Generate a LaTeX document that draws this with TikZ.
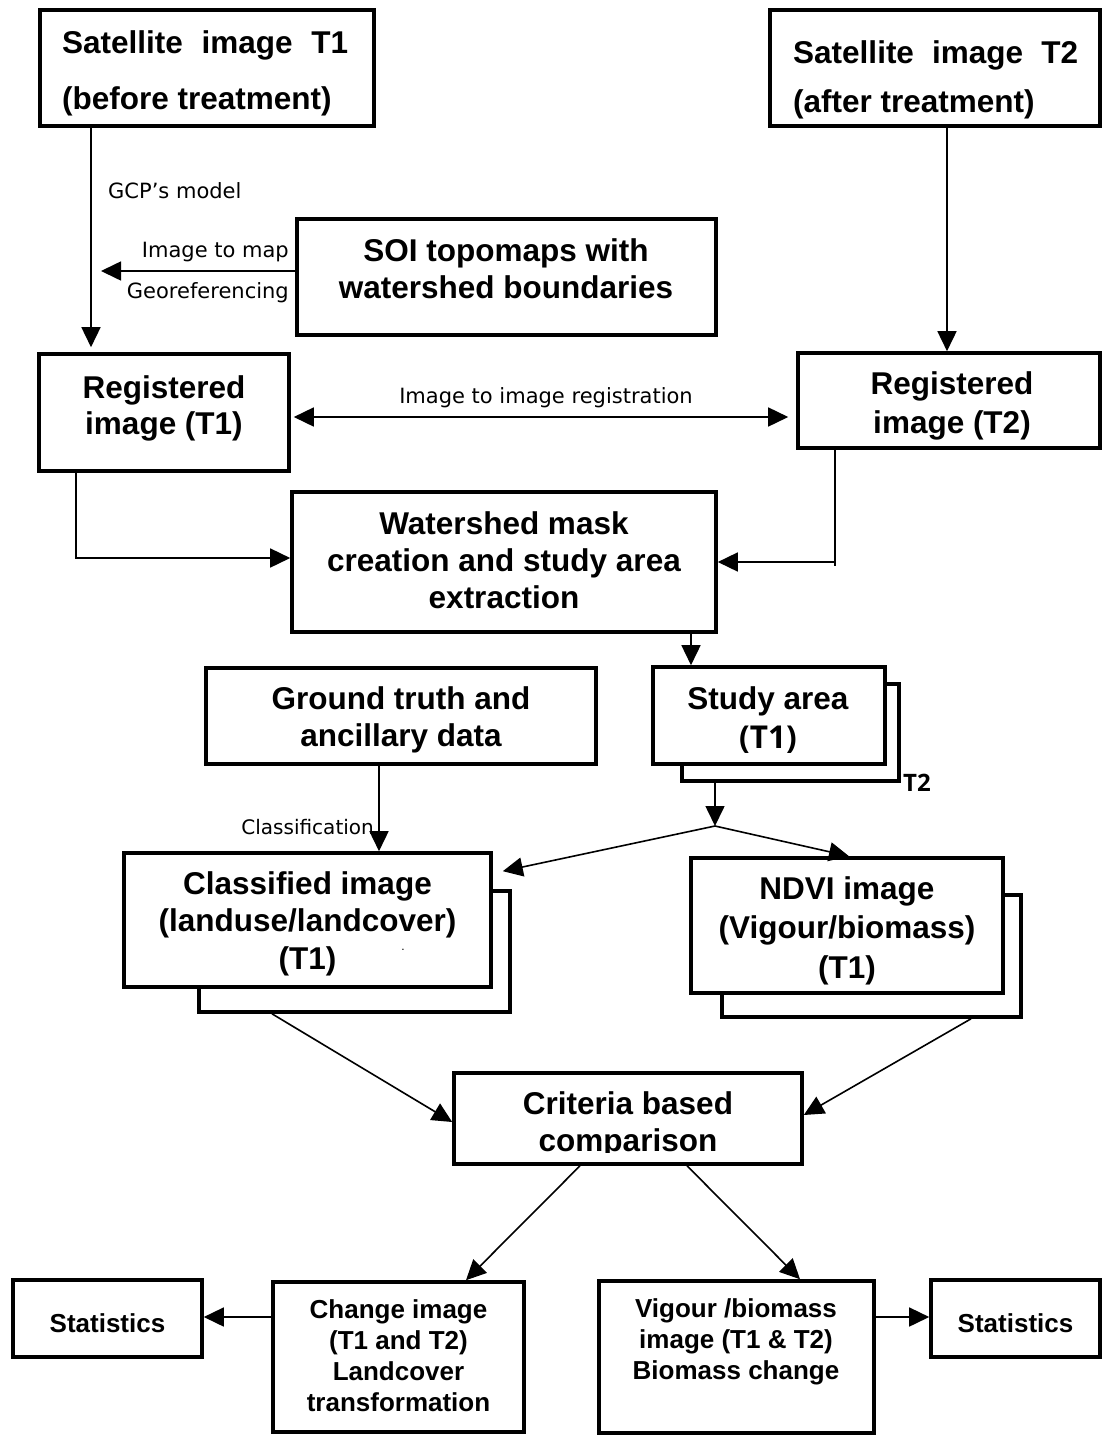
\documentclass[tikz,border=0pt]{standalone}
\usepackage{fontspec}
\setmainfont{Liberation Sans}
\newfontfamily\lblfont{DejaVu Sans}
\newfontfamily\osfont{Open Sans}
\usetikzlibrary{arrows.meta}
\begin{document}
\begin{tikzpicture}[x=1pt,y=-1pt,
  box/.style={draw, line width=3.6pt, fill=white, inner sep=0pt},
  big/.style={font=\bfseries\fontsize{31.5}{37}\selectfont, align=center, inner sep=0pt},
  small/.style={font=\bfseries\fontsize{26}{31}\selectfont, align=center, inner sep=0pt},
  lbl/.style={font=\lblfont\fontsize{21}{25}\selectfont, inner sep=0pt},
  conn/.style={line width=1.6pt, -{Triangle[length=20pt,width=19pt]}},
  conntwo/.style={line width=1.6pt, {Triangle[length=20pt,width=19pt]}-{Triangle[length=20pt,width=19pt]}},
  plain/.style={line width=1.6pt}]
\fill[white] (0,0) rectangle (1102,1435);
\useasboundingbox (0,0) rectangle (1102,1435);

% top boxes
\node[box, minimum width=334pt, minimum height=116pt] (A) at (207,68) {};
\node[big, anchor=west, align=left, font=\bfseries\fontsize{31.5}{56}\selectfont] (At) at (62,73)
  {\hbox to 286pt{Satellite\hfill image\hfill T1}\\(before treatment)};
\node[box, minimum width=330pt, minimum height=116pt] (B) at (935,68) {};
\node[big, anchor=west, align=left, font=\bfseries\fontsize{31.5}{49}\selectfont] (Bt) at (793,80)
  {\hbox to 285pt{Satellite\hfill image\hfill T2}\\(after treatment)};

\node[box, minimum width=419pt, minimum height=116pt] (SOI) at (506.5,277) {};
\node[big] (SOIt) at (506,268.5) {SOI topomaps with\\watershed boundaries};

\node[box, minimum width=250pt, minimum height=117pt] (R1) at (164,412.5) {};
\node[big, font=\bfseries\fontsize{31.5}{36}\selectfont] (R1t) at (164,408) {Registered\\image (T1)};
\node[box, minimum width=302pt, minimum height=95pt] (R2) at (949,400.5) {};
\node[big, font=\bfseries\fontsize{31.5}{39}\selectfont] (R2t) at (952,405.5) {Registered\\image (T2)};

\node[box, minimum width=424pt, minimum height=140pt] (Wat) at (504,562) {};
\node[big] (Watt) at (504,560) {Watershed mask\\creation and study area\\extraction};

\node[box, minimum width=390pt, minimum height=96pt] (GT) at (401,716) {};
\node[big] (GTt) at (401,719.5) {Ground truth and\\ancillary data};

\node[box, minimum width=217pt, minimum height=97pt] (SB) at (790.5,732.5) {};
\node[box, minimum width=232pt, minimum height=97pt] (SF) at (769,715.5) {};
\node[big, font=\bfseries\fontsize{31.5}{39}\selectfont] (SFt) at (768,720.5) {Study area\\{\osfont\bfseries (T1)}};
\node[inner sep=0pt, anchor=west, font=\osfont\bfseries\fontsize{24}{28}\selectfont] (T2lbl) at (903,783) {T2};

\node[box, minimum width=311pt, minimum height=121pt] (CB) at (354.5,951.5) {};
\node[box, minimum width=367pt, minimum height=134pt] (CF) at (307.5,920) {};
\node[big, font=\bfseries\fontsize{31.5}{37.5}\selectfont] (CFt) at (307.5,923.5) {Classified image\\(landuse/landcover)\\(T1)};
\node[inner sep=0pt, font=\fontsize{12}{12}\selectfont] (dot) at (403,950) {.};

\node[box, minimum width=299pt, minimum height=122pt] (NB) at (871.5,956) {};
\node[box, minimum width=312pt, minimum height=135pt] (NF) at (847,925.5) {};
\node[big, font=\bfseries\fontsize{31.5}{39.5}\selectfont] (NFt) at (847,930.5) {NDVI image\\(Vigour/biomass)\\(T1)};

\node[box, minimum width=348pt, minimum height=91pt] (Cr) at (628,1118.5) {};
\begin{scope}
\clip (454,1073) rectangle (802,1152);
\node[big] (Crt) at (628,1124.5) {Criteria based\\comparison};
\end{scope}

\node[box, minimum width=251pt, minimum height=150pt] (Ch) at (398.5,1357) {};
\node[small] (Cht) at (398.5,1356) {Change image\\(T1 and T2)\\Landcover\\transformation};
\node[box, minimum width=275pt, minimum height=152pt] (Vg) at (736.5,1357) {};
\node[small] (Vgt) at (736,1341.5) {Vigour /biomass\\image (T1 \& T2)\\Biomass change};
\node[box, minimum width=189pt, minimum height=77pt] (SL) at (107.5,1318.5) {};
\node[small] (SLt) at (107.5,1323) {Statistics};
\node[box, minimum width=169pt, minimum height=77pt] (SR) at (1015.5,1318.5) {};
\node[small] (SRt) at (1015.5,1323) {Statistics};

% labels
\node[lbl, anchor=west] (gcp) at (108,191) {GCP’s model};
\node[lbl, anchor=east] (imap) at (289,252) {Image to map};
\node[lbl, anchor=east] (georef) at (289,293) {Georeferencing};
\node[lbl] (i2i) at (546,398) {Image to image registration};
\node[lbl, anchor=east, font=\lblfont\fontsize{20}{24}\selectfont] (cls) at (374,827) {Classification};

% connectors
\draw[conn] ([xshift=-116pt]A.south) -- ([xshift=-73pt,yshift=5pt]R1.north);
\coordinate (geo) at (101,271);
\draw[conn] ([yshift=6pt]SOI.west) -- (geo);
\draw[conn] ([xshift=12pt]B.south) -- ([xshift=-2pt]R2.north);
\draw[conntwo] ([xshift=3pt,yshift=-4.5pt]R1.east) -- ([xshift=-8pt,yshift=-16.5pt]R2.west);
\draw[conn] ([xshift=-88pt]R1.south) |- ([yshift=4pt]Wat.west);
\coordinate (r2end) at (835,566);
\draw[plain] ([xshift=-114pt]R2.south) -- (r2end);
\draw[conn] (r2end |- Wat.east) -- (Wat.east);
\draw[conn] ([xshift=187pt]Wat.south) -- ([xshift=-78pt]SF.north);
\coordinate (br) at (715,826);
\draw[conn] ([xshift=-75.5pt]SB.south) -- (br);
\draw[conn] (br) -- ([xshift=10pt,yshift=-20pt]CF.north east);
\draw[conn] (br) -- ([xshift=2pt]NF.north);
\draw[conn] ([xshift=-22pt]GT.south) -- ([xshift=71.5pt]CF.north);
\draw[conn] ([xshift=-82.5pt]CB.south) -- ([yshift=-3.5pt]Cr.west);
\draw[conn] ([xshift=99.5pt]NB.south) -- ([yshift=3.5pt]Cr.east);
\draw[conn] ([xshift=-48pt]Cr.south) -- ([xshift=67.5pt]Ch.north);
\draw[conn] ([xshift=59pt]Cr.south) -- ([xshift=63.5pt]Vg.north);
\draw[conn] ([yshift=40pt]Ch.west) -- ([yshift=1.5pt]SL.east);
\draw[conn] ([yshift=40pt]Vg.east) -- ([yshift=1.5pt]SR.west);
\end{tikzpicture}
\end{document}
